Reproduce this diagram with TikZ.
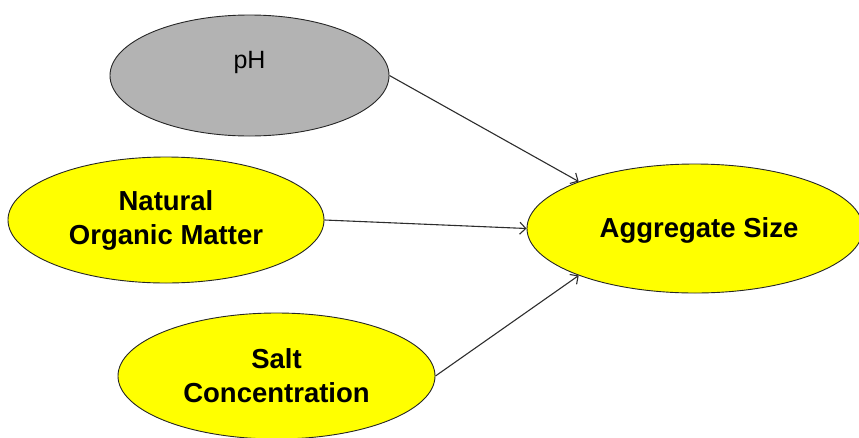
\documentclass[tikz,border=0pt]{standalone}
\usepackage{fontspec}
\setmainfont{Liberation Sans}
\usetikzlibrary{shapes.geometric,arrows.meta}
\definecolor{phgray}{RGB}{179,179,179}
\definecolor{nodeyellow}{RGB}{255,255,0}
\definecolor{edgegray}{RGB}{45,45,45}
\begin{document}
\begin{tikzpicture}[x=1pt,y=-1pt,
  ell/.style={ellipse,draw=black!85,line width=0.9pt,inner sep=0pt,align=center},
  bigtext/.style={font=\fontsize{27.5}{34}\selectfont\bfseries},
  conn/.style={draw=edgegray,line width=1.1pt,-{Straight Barb[length=6pt,width=12pt]}}]
\useasboundingbox (0,0) rectangle (859,437);
\node[ell,fill=phgray,minimum width=279pt,minimum height=121pt] (ph) at (249.5,75.5) {};
\node[font=\fontsize{25}{30}\selectfont] (phlabel) at (249.5,62) {pH};
\node[ell,fill=nodeyellow,bigtext,minimum width=316pt,minimum height=126pt] (nom) at (166,220) {Natural\\Organic Matter};
\node[ell,fill=nodeyellow,minimum width=336pt,minimum height=129pt] (agg) at (695,228.5) {};
\node[bigtext] (agglabel) at (699,230) {Aggregate Size};
\node[ell,fill=nodeyellow,bigtext,minimum width=317pt,minimum height=126pt] (salt) at (276.5,376) {Salt\\Concentration};
\draw[conn] (ph.east) -- (agg.158.5);
\draw[conn] (nom.east) -- (agg.west);
\draw[conn] (salt.east) -- (agg.202);
\end{tikzpicture}
\end{document}
